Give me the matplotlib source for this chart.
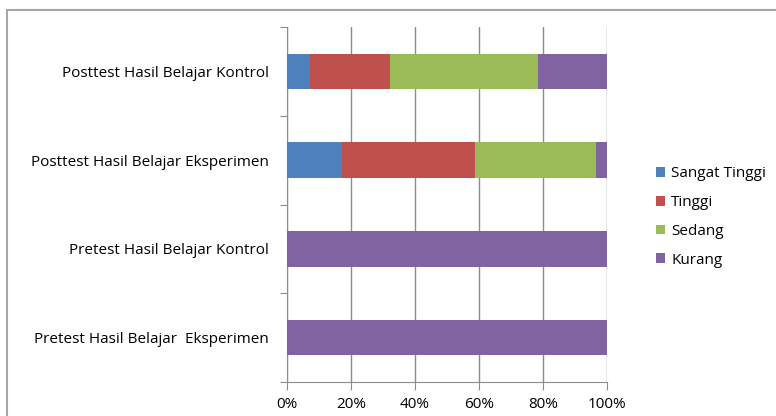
import matplotlib.pyplot as plt
from matplotlib.patches import Rectangle
import numpy as np

plt.rcParams['font.family'] = ['Open Sans', 'DejaVu Sans']

# categories from bottom to top
categories = ["Pretest Hasil Belajar  Eksperimen",
              "Pretest Hasil Belajar Kontrol",
              "Posttest Hasil Belajar Eksperimen",
              "Posttest Hasil Belajar Kontrol"]

series = ["Sangat Tinggi", "Tinggi", "Sedang", "Kurang"]
sangat_tinggi = [0, 0, 17.2, 7.1]
tinggi = [0, 0, 41.4, 25.0]
sedang = [0, 0, 37.9, 46.4]
kurang = [100, 100, 3.5, 21.5]
colors = ["#4F81BD", "#C0504D", "#9BBB59", "#8064A2"]

fig = plt.figure(figsize=(7.76, 4.16), dpi=100)
ax = fig.add_axes([287/776, 1 - 382/416, 320/776, 355/416])

# outer chart border
fig.patches.append(Rectangle((7/776, -0.05), 1.2, 1 - 10/416 + 0.05,
                             transform=fig.transFigure, fill=False,
                             edgecolor="#a6a6a6", linewidth=1.5))

ypos = np.arange(len(categories)) + 0.5
left = np.zeros(len(categories))
for name, vals, c in zip(series, [sangat_tinggi, tinggi, sedang, kurang], colors):
    ax.barh(ypos, vals, left=left, height=0.4, color=c, label=name, zorder=3)
    left += np.array(vals)

ax.set_xlim(0, 100)
ax.set_ylim(0, 4)
ax.set_xticks([0, 20, 40, 60, 80, 100])
ax.set_xticklabels(["0%", "20%", "40%", "60%", "80%", "100%"], fontsize=11)
ax.xaxis.grid(True, color="#8c8c8c", linewidth=1, zorder=0)

ax.set_yticks([0, 1, 2, 3, 4])
ax.set_yticklabels([])
ax.set_yticks(ypos, minor=True)
ax.set_yticklabels(categories, minor=True, fontsize=11)
ax.tick_params(axis='y', which='major', length=5, color="#8c8c8c")
ax.tick_params(axis='y', which='minor', length=0, pad=13)
ax.tick_params(axis='x', length=6, color="#8c8c8c", pad=5)

for s in ["top", "right"]:
    ax.spines[s].set_visible(False)
for s in ["left", "bottom"]:
    ax.spines[s].set_color("#8c8c8c")

ax.legend(loc="center left", bbox_to_anchor=(1.11, 0.465), frameon=False,
          fontsize=11, handlelength=0.6, handleheight=0.6, handletextpad=0.4,
          labelspacing=0.9)

plt.savefig("out.png", dpi=100)
